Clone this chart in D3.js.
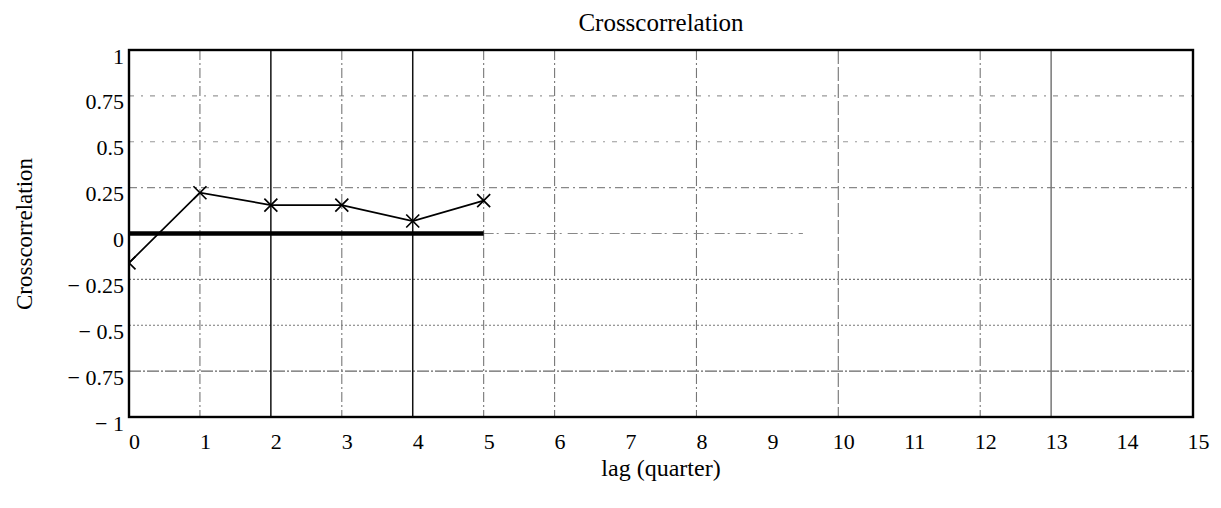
<!DOCTYPE html>
<html>
<head>
<meta charset="utf-8">
<script src="https://cdn.jsdelivr.net/npm/d3@7"></script>
<style>
  body { margin: 0; background: #fff; }
  text { font-family: "Liberation Serif", "Times New Roman", serif; fill: #000; }
</style>
</head>
<body>
<svg id="chart" width="1221" height="508"></svg>
<script>
// data
var lags = [0, 1, 2, 3, 4, 5];
var ccf = [-0.16, 0.222, 0.155, 0.155, 0.068, 0.179];
var xTicks = d3.range(0, 16);
var yTicks = [-1, -0.75, -0.5, -0.25, 0, 0.25, 0.5, 0.75, 1];
var vGrid = [1, 2, 3, 4, 5, 6, 8, 10, 12, 13];
var hGrid = [0.75, 0.5, 0.25, -0.25, -0.5, -0.75];

var svg = d3.select("#chart");
var pLeft = 129, pRight = 1193, pTop = 50, pBottom = 417;

var x = d3.scaleLinear().domain([0, 15]).range([pLeft, pRight]);
var y = d3.scaleLinear().domain([-1, 1]).range([pBottom, pTop]);

// grid line looks (scan of an old Mathcad plot, lines partly faded)
var vStyle = function (v) {
  if (v == 2 || v == 4) return { c: "#111", w: 1.5, d: null };
  if (v == 13) return { c: "#777", w: 1.5, d: null };
  if (v == 10) return { c: "#888", w: 1.3, d: "14,3" };
  return { c: "#777", w: 1.1, d: "10,3,2,3" };
};
var hStyle = function (v) {
  if (v == -0.25 || v == -0.5) return { c: "#777", w: 1.1, d: "2,2" };
  if (v == -0.75) return { c: "#666", w: 1.1, d: "12,2,2,2" };
  if (v == 0.25) return { c: "#888", w: 1.1, d: "8,4,2,4" };
  return { c: "#999", w: 1.1, d: "5,7,2,7" };
};

svg.append("defs").append("clipPath").attr("id", "clip")
  .append("rect")
  .attr("x", pLeft).attr("y", pTop)
  .attr("width", pRight - pLeft).attr("height", pBottom - pTop);

// horizontal grid
svg.append("g")
  .selectAll("line")
  .data(hGrid)
  .enter()
  .append("line")
  .attr("x1", pLeft).attr("x2", pRight)
  .attr("y1", function (d) { return y(d) })
  .attr("y2", function (d) { return y(d) })
  .attr("stroke", function (d) { return hStyle(d).c })
  .attr("stroke-width", function (d) { return hStyle(d).w })
  .attr("stroke-dasharray", function (d) { return hStyle(d).d });

// vertical grid
svg.append("g")
  .selectAll("line")
  .data(vGrid)
  .enter()
  .append("line")
  .attr("x1", function (d) { return x(d) })
  .attr("x2", function (d) { return x(d) })
  .attr("y1", pTop).attr("y2", pBottom)
  .attr("stroke", function (d) { return vStyle(d).c })
  .attr("stroke-width", function (d) { return vStyle(d).w })
  .attr("stroke-dasharray", function (d) { return vStyle(d).d });

// zero line: thin dashed beyond the data, thick over it
svg.append("line")
  .attr("x1", x(5)).attr("x2", x(9.5))
  .attr("y1", y(0)).attr("y2", y(0))
  .attr("stroke", "#888").attr("stroke-width", 1.2)
  .attr("stroke-dasharray", "10,3,2,6");
svg.append("line")
  .attr("x1", x(0)).attr("x2", x(5))
  .attr("y1", y(0)).attr("y2", y(0))
  .attr("stroke", "#000").attr("stroke-width", 4.5);

// series
var pts = lags.map(function (l, i) { return [l, ccf[i]] });
var line = d3.line()
  .x(function (d) { return x(d[0]) })
  .y(function (d) { return y(d[1]) });

var g = svg.append("g").attr("clip-path", "url(#clip)");
g.append("path")
  .datum(pts)
  .attr("d", line)
  .attr("fill", "none")
  .attr("stroke", "#000")
  .attr("stroke-width", 1.7);

var s = 6.5;
g.selectAll("path.mark")
  .data(pts)
  .enter()
  .append("path")
  .attr("class", "mark")
  .attr("d", function (d) {
    var cx = x(d[0]), cy = y(d[1]);
    return "M" + (cx - s) + "," + (cy - s) + "L" + (cx + s) + "," + (cy + s) +
      "M" + (cx - s) + "," + (cy + s) + "L" + (cx + s) + "," + (cy - s);
  })
  .attr("stroke", "#000")
  .attr("stroke-width", 1.7)
  .attr("fill", "none");

// frame
svg.append("rect")
  .attr("x", pLeft).attr("y", pTop)
  .attr("width", pRight - pLeft).attr("height", pBottom - pTop)
  .attr("fill", "none")
  .attr("stroke", "#000")
  .attr("stroke-width", 2.4);

// axes
var fmt = function (d) {
  var a = Math.abs(d);
  return (d < 0 ? "\u2212 " : "") + a;
};

var yAxis = svg.append("g")
  .attr("transform", "translate(" + pLeft + ",0)")
  .call(d3.axisLeft(y).tickValues(yTicks).tickSize(0).tickPadding(5).tickFormat(fmt));
yAxis.select(".domain").remove();
yAxis.selectAll("text")
  .attr("dy", 13)
  .style("font-family", "Liberation Serif")
  .style("font-size", "22px")
  .attr("fill", "#000");

var xAxis = svg.append("g")
  .attr("transform", "translate(0," + pBottom + ")")
  .call(d3.axisBottom(x).tickValues(xTicks).tickSize(0).tickFormat(d3.format("d")));
xAxis.select(".domain").remove();
xAxis.selectAll("text")
  .attr("y", 32)
  .attr("dy", null)
  .attr("dx", 5)
  .style("font-family", "Liberation Serif")
  .style("font-size", "22px")
  .attr("fill", "#000");

// titles
svg.append("text")
  .attr("x", (pLeft + pRight) / 2)
  .attr("y", 31)
  .attr("text-anchor", "middle")
  .style("font-size", "25px")
  .text("Crosscorrelation");

svg.append("text")
  .attr("x", (pLeft + pRight) / 2)
  .attr("y", 476)
  .attr("text-anchor", "middle")
  .style("font-size", "24px")
  .text("lag (quarter)");

svg.append("text")
  .attr("transform", "translate(32,234) rotate(-90)")
  .attr("text-anchor", "middle")
  .style("font-size", "23px")
  .text("Crosscorrelation");
</script>
</body>
</html>
